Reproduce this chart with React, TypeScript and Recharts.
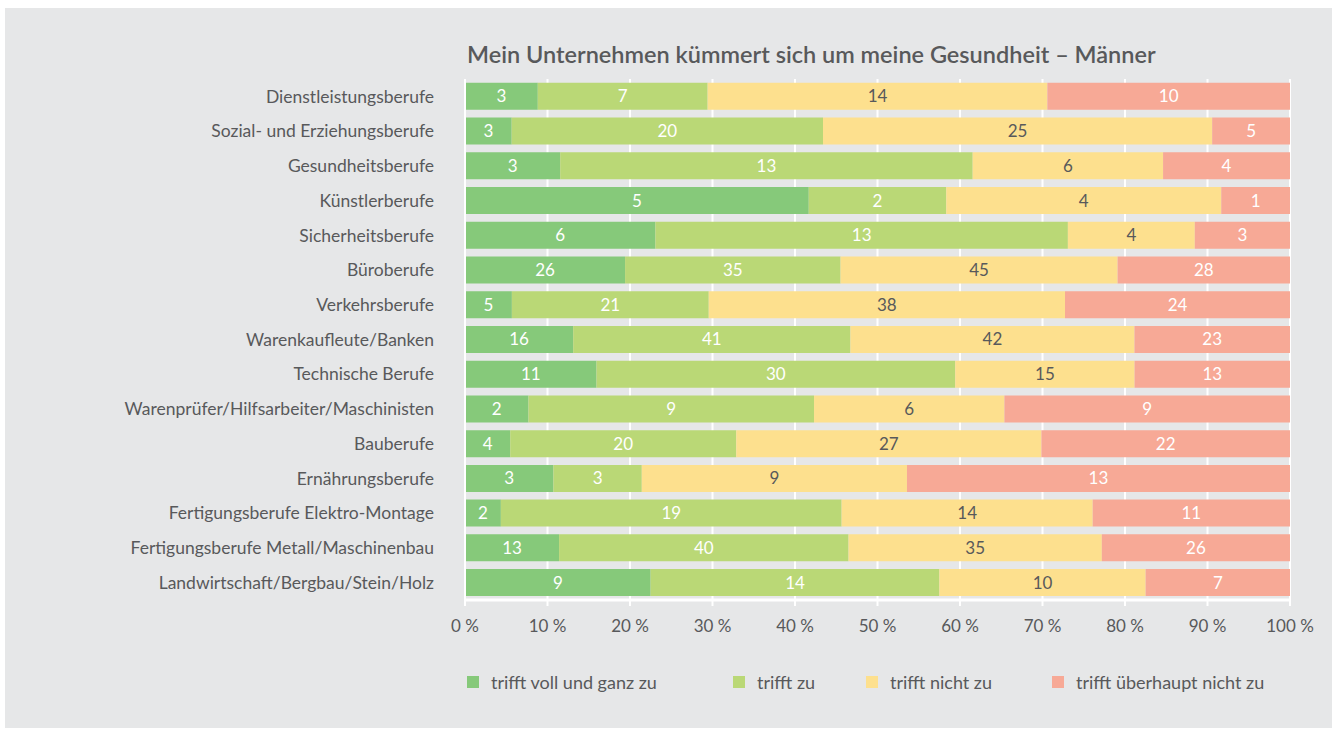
import { BarChart, Bar, XAxis, YAxis, CartesianGrid, LabelList } from 'recharts';

const categories = [
  'Dienstleistungsberufe',
  'Sozial- und Erziehungsberufe',
  'Gesundheitsberufe',
  'Künstlerberufe',
  'Sicherheitsberufe',
  'Büroberufe',
  'Verkehrsberufe',
  'Warenkaufleute/Banken',
  'Technische Berufe',
  'Warenprüfer/Hilfsarbeiter/Maschinisten',
  'Bauberufe',
  'Ernährungsberufe',
  'Fertigungsberufe Elektro-Montage',
  'Fertigungsberufe Metall/Maschinenbau',
  'Landwirtschaft/Bergbau/Stein/Holz',
];

const trifftVoll = [3, 3, 3, 5, 6, 26, 5, 16, 11, 2, 4, 3, 2, 13, 9];
const trifftZu = [7, 20, 13, 2, 13, 35, 21, 41, 30, 9, 20, 3, 19, 40, 14];
const trifftNicht = [14, 25, 6, 4, 4, 45, 38, 42, 15, 6, 27, 9, 14, 35, 10];
const trifftUeberhaupt = [10, 5, 4, 1, 3, 28, 24, 23, 13, 9, 22, 13, 11, 26, 7];

const seriesNames = [
  'trifft voll und ganz zu',
  'trifft zu',
  'trifft nicht zu',
  'trifft überhaupt nicht zu',
];

const xTicks = [0, 0.1, 0.2, 0.3, 0.4, 0.5, 0.6, 0.7, 0.8, 0.9, 1];

const title = 'Mein Unternehmen kümmert sich um meine Gesundheit – Männer';

const FONT = 'Lato, "Open Sans", sans-serif';
const TEXT = '#58595b';
const colors = ['#86c97a', '#bad876', '#fde08e', '#f7a996'];
const labelColors = ['#ffffff', '#ffffff', '#58595b', '#ffffff'];
const keys = ['voll', 'zu', 'nicht', 'ueberhaupt'];
const legendLeft = [467, 733, 866, 1052];

const data = categories.map((name, i) => ({
  name,
  voll: trifftVoll[i],
  zu: trifftZu[i],
  nicht: trifftNicht[i],
  ueberhaupt: trifftUeberhaupt[i],
}));

export default function App() {
  return (
    <div style={{ position: 'relative', width: 1336, height: 731, background: '#fff', fontFamily: FONT }}>
      <style>{'body{margin:0}'}</style>
      <div
        style={{
          position: 'absolute',
          left: 5,
          top: 8,
          width: 1327,
          height: 720,
          background: '#e6e7e8',
        }}
      />
      <div
        style={{
          position: 'absolute',
          left: 467,
          top: 40,
          fontSize: 23.5,
          fontWeight: 600,
          color: TEXT,
          whiteSpace: 'nowrap',
        }}
      >
        {title}
      </div>
      <div style={{ position: 'absolute', left: 0, top: 0 }}>
        <BarChart
          width={1336}
          height={731}
          data={data}
          layout="vertical"
          stackOffset="expand"
          barCategoryGap="11%"
          margin={{ top: 79, right: 46, bottom: 91, left: 5 }}
        >
          <CartesianGrid horizontal={false} stroke="#ffffff" strokeWidth={2} />
          <XAxis
            type="number"
            domain={[0, 1]}
            ticks={xTicks}
            tickFormatter={(v: number) => `${Math.round(v * 100)} %`}
            axisLine={{ stroke: '#ffffff', strokeWidth: 3 }}
            tickLine={{ stroke: '#ffffff', strokeWidth: 2 }}
            tickSize={6}
            tickMargin={14}
            height={40}
            tick={{ fill: TEXT, fontSize: 17, fontFamily: FONT }}
          />
          <YAxis
            type="category"
            dataKey="name"
            width={460}
            axisLine={{ stroke: '#ffffff', strokeWidth: 2 }}
            tickLine={false}
            tickSize={6}
            tickMargin={25}
            interval={0}
            tick={{ fill: TEXT, fontSize: 17.5, fontFamily: FONT }}
          />
          {keys.map((k, i) => (
            <Bar key={k} dataKey={k} name={seriesNames[i]} stackId="a" fill={colors[i]} isAnimationActive={false}>
              <LabelList
                dataKey={k}
                position="center"
                fill={labelColors[i]}
                fontSize={17}
                fontFamily={FONT}
              />
            </Bar>
          ))}
        </BarChart>
      </div>
      {seriesNames.map((s, i) => (
        <div
          key={s}
          style={{
            position: 'absolute',
            left: legendLeft[i],
            top: 671,
            display: 'flex',
            alignItems: 'center',
            fontSize: 18,
            color: TEXT,
            whiteSpace: 'nowrap',
          }}
        >
          <span style={{ display: 'inline-block', width: 12, height: 12, background: colors[i], marginRight: 12 }} />
          {s}
        </div>
      ))}
    </div>
  );
}
